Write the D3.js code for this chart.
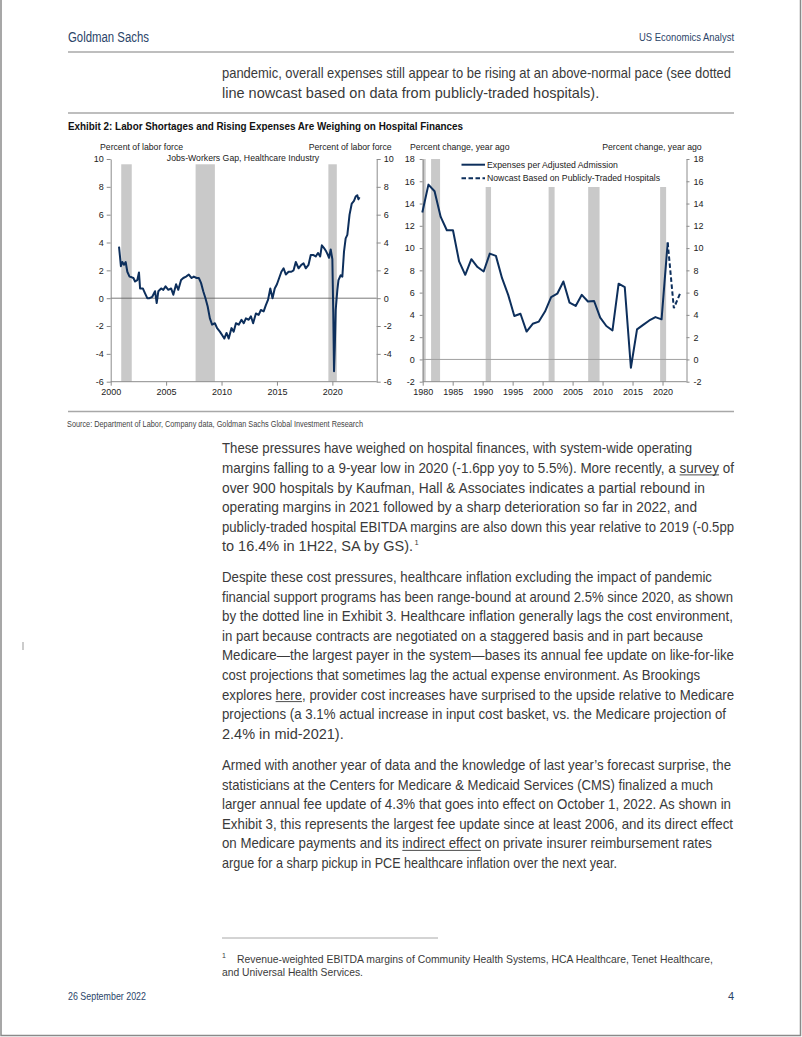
<!DOCTYPE html>
<html><head><meta charset="utf-8">
<script src="https://cdn.jsdelivr.net/npm/d3@7"></script>
<style>
html,body{margin:0;padding:0;background:#fff;}
svg{display:block;}
text{font-family:"Liberation Sans",Arial,sans-serif;}
</style></head>
<body>
<svg id="page" width="802" height="1037"></svg>
<script>
// ---------------- DATA ----------------
// Left panel: Jobs-Workers Gap, Healthcare Industry (percent of labor force)
const gapDates = [2000.75,2000.85,2000.92,2001.05,2001.2,2001.35,2001.5,2001.7,2001.9,2002.05,2002.2,2002.4,2002.55,2002.65,2002.9,2003.1,2003.3,2003.5,2003.75,2004.0,2004.15,2004.3,2004.55,2004.75,2004.95,2005.2,2005.45,2005.65,2005.9,2006.1,2006.35,2006.55,2006.8,2007.05,2007.3,2007.5,2007.75,2007.95,2008.15,2008.35,2008.55,2008.75,2008.95,2009.15,2009.4,2009.6,2009.85,2010.05,2010.25,2010.45,2010.65,2010.9,2011.1,2011.3,2011.55,2011.8,2012.0,2012.2,2012.45,2012.65,2012.85,2013.1,2013.35,2013.55,2013.8,2014.0,2014.2,2014.4,2014.6,2014.8,2015.0,2015.2,2015.4,2015.6,2015.8,2016.05,2016.3,2016.5,2016.7,2016.95,2017.2,2017.4,2017.6,2017.85,2018.05,2018.3,2018.5,2018.7,2018.9,2019.05,2019.25,2019.45,2019.6,2019.7,2019.85,2020.0,2020.08,2020.15,2020.22,2020.3,2020.45,2020.55,2020.75,2020.9,2021.05,2021.2,2021.35,2021.45,2021.55,2021.75,2021.95,2022.1,2022.25,2022.35,2022.45];
const gapValues = [3.7,2.9,2.3,2.6,2.4,2.6,1.9,1.55,1.5,1.45,1.2,1.3,1.85,0.7,0.7,0.35,0.0,0.0,0.1,0.5,-0.35,0.5,0.7,0.6,0.85,0.6,0.7,0.25,1.0,0.6,1.3,1.45,1.55,1.7,1.45,1.55,1.45,1.45,1.1,0.5,0.0,-0.6,-1.45,-1.9,-1.8,-2.15,-2.4,-2.65,-2.9,-2.5,-2.9,-2.15,-2.4,-1.8,-1.9,-1.55,-1.8,-1.45,-1.55,-1.3,-1.8,-1.1,-1.2,-0.85,-0.95,-0.5,-0.1,0.7,0.0,0.7,1.0,1.45,1.9,2.15,1.7,1.9,1.9,2.0,2.6,2.15,2.4,2.5,2.15,2.4,3.1,3.1,3.0,3.25,3.0,3.8,3.6,3.35,3.1,2.9,3.5,2.8,-1.0,-5.25,-3.5,-0.85,0.6,1.3,1.65,1.55,3.35,4.3,4.55,5.27,6.0,6.8,7.0,7.3,7.4,7.1,7.25];
const leftRecessions = [[2000.95,2001.9],[2007.66,2009.4],[2019.64,2020.4]];
const leftYTicks = [-6,-4,-2,0,2,4,6,8,10];
const leftXTicks = [2000,2005,2010,2015,2020];

// Right panel: Expenses per Adjusted Admission (percent change, year ago)
const expYears = [1980,1981,1982,1983,1984,1985,1986,1987,1988,1989,1990,1991,1992,1993,1994,1995,1996,1997,1998,1999,2000,2001,2002,2003,2004,2005,2006,2007,2008,2009,2010,2011,2012,2013,2014,2015,2016,2017,2018,2019,2020];
const expValues = [13.2,15.7,15.1,12.8,11.6,11.6,8.8,7.6,9.0,8.3,7.9,9.5,9.3,7.3,5.8,3.9,4.1,2.5,3.2,3.4,4.3,5.6,5.9,7.0,5.1,4.8,5.8,5.2,5.25,3.75,3.0,2.6,6.8,6.5,-0.75,2.7,3.1,3.5,3.8,3.6,10.5];
const nowYears = [2020,2021,2022];
const nowValues = [10.5,4.6,5.9];
const rightRecessions = [[1979.95,1980.5],[1981.4,1982.9],[1990.5,1991.4],[2001.0,2002.0],[2007.6,2009.5],[2019.6,2020.6]];
const rightYTicks = [-2,0,2,4,6,8,10,12,14,16,18];
const rightXTicks = [1980,1985,1990,1995,2000,2005,2010,2015,2020];

const legendLabels = ["Expenses per Adjusted Admission","Nowcast Based on Publicly-Traded Hospitals"];

// ---------------- PAGE ----------------
const svg = d3.select("#page");
svg.append("rect").attr("width",802).attr("height",1037).attr("fill","#fff");
svg.append("path").attr("d","M1,0 V1035.5 H800.5 V0").attr("fill","none").attr("stroke","#8a8a8a").attr("stroke-width",1.5);

const navy = "#2b4569";
const bodyCol = "#3a3a3a";
const BODY_SIZE = 14.5;

function txt(x,y,s,opt){
  const t = svg.append("text").attr("x",x).attr("y",y).text(s)
    .attr("font-size",opt.size).attr("fill",opt.fill||"#222");
  if(opt.weight) t.attr("font-weight",opt.weight);
  if(opt.anchor) t.attr("text-anchor",opt.anchor);
  if(opt.len){ t.attr("textLength",opt.len).attr("lengthAdjust","spacingAndGlyphs"); }
  return t;
}
function rule(x1,x2,y,col,w){
  svg.append("line").attr("x1",x1).attr("x2",x2).attr("y1",y).attr("y2",y).attr("stroke",col||"#a8a8a8").attr("stroke-width",w||1.3);
}

// header
txt(68,42,"Goldman Sachs",{size:14,fill:navy,len:81});
txt(734,41,"US Economics Analyst",{size:11,fill:navy,anchor:"end",len:95});
rule(68,734,52);

// body line: text string, optional underlined substrings, optional superscript note, optional end x
function bodyLine(y,s,endX,under,sup){
  const t = svg.append("text").attr("x",222).attr("y",y).attr("font-size",BODY_SIZE).attr("fill",bodyCol).text(s);
  if(endX) t.attr("textLength",endX-222).attr("lengthAdjust","spacingAndGlyphs");
  const node = t.node();
  (under||[]).forEach(w=>{
    const i0 = s.indexOf(w), i1 = i0 + w.length - 1;
    const a = node.getExtentOfChar(i0), b = node.getExtentOfChar(i1);
    svg.append("line").attr("x1",a.x).attr("x2",b.x+b.width).attr("y1",y+2).attr("y2",y+2)
      .attr("stroke",bodyCol).attr("stroke-width",0.9);
  });
  if(sup){
    const last = node.getExtentOfChar(s.length-1);
    svg.append("text").attr("x",last.x+last.width+1.5).attr("y",y-6).attr("font-size",7.5).attr("fill",bodyCol).text(sup);
  }
}
bodyLine(78,"pandemic, overall expenses still appear to be rising at an above-normal pace (see dotted",731);
bodyLine(97.5,"line nowcast based on data from publicly-traded hospitals).",null);
rule(68,734,113);

txt(68,130,"Exhibit 2: Labor Shortages and Rising Expenses Are Weighing on Hospital Finances",{size:11.5,weight:"bold",fill:"#111",len:395});

// ---------------- LEFT CHART ----------------
const lineCol = "#0d2f5c";
const fmt = d => String(d);
const xL = d3.scaleLinear().domain([2000,2024]).range([110.7,376.7]);
const yL = d3.scaleLinear().domain([-6,10]).range([381.7,159]);
const gL = svg.append("g");
gL.selectAll("rect.rec").data(leftRecessions).join("rect")
  .attr("x",d=>xL(d[0])).attr("width",d=>xL(d[1])-xL(d[0]))
  .attr("y",yL(9.62)).attr("height",yL(-6)-yL(9.62)).attr("fill","#c9c9c9");
gL.append("line").attr("x1",xL(2000)).attr("x2",xL(2024)).attr("y1",yL(0)).attr("y2",yL(0)).attr("stroke","#555").attr("stroke-width",0.8);

function styleAxis(g){
  g.selectAll("path.domain").attr("stroke","#8c8c8c").attr("stroke-width",1);
  g.selectAll(".tick line").attr("stroke","#8c8c8c");
  g.selectAll(".tick text").attr("font-size",9).attr("fill","#222").attr("font-family","Liberation Sans, Arial, sans-serif");
}
gL.append("g").attr("transform",`translate(${xL(2000)},0)`)
  .call(d3.axisLeft(yL).tickValues(leftYTicks).tickFormat(fmt).tickSize(4).tickSizeOuter(0).tickPadding(3)).call(styleAxis);
gL.append("g").attr("transform",`translate(${xL(2024)},0)`)
  .call(d3.axisRight(yL).tickValues(leftYTicks).tickFormat(fmt).tickSize(4).tickSizeOuter(0).tickPadding(3)).call(styleAxis);
const axLB = gL.append("g").attr("transform",`translate(0,${yL(-6)})`)
  .call(d3.axisBottom(xL).tickValues(leftXTicks).tickFormat(fmt).tickSize(4).tickSizeOuter(0).tickPadding(3)).call(styleAxis);
axLB.select("path.domain").attr("d",`M${xL(2000)},0H${xL(2024)}`);

const lineL = d3.line().x((d,i)=>xL(gapDates[i])).y(d=>yL(d));
gL.append("path").datum(gapValues).attr("d",lineL).attr("fill","none").attr("stroke",lineCol).attr("stroke-width",2).attr("stroke-linejoin","round");

txt(100,149.5,"Percent of labor force",{size:8.7});
txt(391.7,149.5,"Percent of labor force",{size:8.7,anchor:"end"});
txt(243,160.8,"Jobs-Workers Gap, Healthcare Industry",{size:8.7,anchor:"middle"});

// ---------------- RIGHT CHART ----------------
const xR = d3.scaleLinear().domain([1980,2024]).range([422.7,686.5]);
const xRd = d3.scaleLinear().domain([1980,2020]).range([422.3,667.7]);
const yR = d3.scaleLinear().domain([-2,18]).range([381.7,159]);
const gR = svg.append("g");
gR.selectAll("rect.rec").data(rightRecessions).join("rect")
  .attr("x",d=>Math.max(xR(d[0]),421.5)).attr("width",d=>xR(d[1])-Math.max(xR(d[0]),421.5))
  .attr("y",yR(18)).attr("height",yR(-2)-yR(18)).attr("fill","#c9c9c9");
gR.append("line").attr("x1",xR(1980)).attr("x2",xR(2024)).attr("y1",yR(0)).attr("y2",yR(0)).attr("stroke","#a0a0a0").attr("stroke-width",1);

gR.append("g").attr("transform",`translate(${xR(1980)},0)`)
  .call(d3.axisLeft(yR).tickValues(rightYTicks).tickFormat(fmt).tickSize(3).tickSizeOuter(0).tickPadding(5)).call(styleAxis);
gR.append("g").attr("transform",`translate(${xR(2024)},0)`)
  .call(d3.axisRight(yR).tickValues(rightYTicks).tickFormat(fmt).tickSize(3).tickSizeOuter(0).tickPadding(4)).call(styleAxis);
const axRB = gR.append("g").attr("transform",`translate(0,${yR(-2)})`)
  .call(d3.axisBottom(xR).tickValues(rightXTicks).tickFormat(fmt).tickSize(4).tickSizeOuter(0).tickPadding(3)).call(styleAxis);
axRB.select("path.domain").attr("d",`M${xR(1980)},0H${xR(2024)}`);

// legend (white box covers shading)
gR.append("rect").attr("x",452).attr("y",158).attr("width",220).attr("height",29).attr("fill","#fff");
gR.append("line").attr("x1",461.5).attr("x2",485).attr("y1",164.7).attr("y2",164.7).attr("stroke",lineCol).attr("stroke-width",2);
gR.append("line").attr("x1",461.5).attr("x2",485).attr("y1",178.3).attr("y2",178.3).attr("stroke",lineCol).attr("stroke-width",2).attr("stroke-dasharray","4.5,2.5");
txt(487,167.8,legendLabels[0],{size:8.7});
txt(487,181.4,legendLabels[1],{size:8.7});

const lineR = d3.line().x((d,i)=>xRd(expYears[i])).y(d=>yR(d));
gR.append("path").datum(expValues).attr("d",lineR).attr("fill","none").attr("stroke",lineCol).attr("stroke-width",2).attr("stroke-linejoin","round");
const lineN = d3.line().x((d,i)=>xRd(nowYears[i])).y(d=>yR(d));
gR.append("path").datum(nowValues).attr("d",lineN).attr("fill","none").attr("stroke",lineCol).attr("stroke-width",2).attr("stroke-dasharray","4.5,2.5");

txt(410,149.5,"Percent change, year ago",{size:8.7});
txt(701.7,149.5,"Percent change, year ago",{size:8.7,anchor:"end"});

rule(68,734,411.5);
txt(67,427,"Source: Department of Labor, Company data, Goldman Sachs Global Investment Research",{size:8.5,fill:"#444",len:296});

// ---------------- BODY PARAGRAPHS ----------------
// [text, end x (null = natural width), underlined words, superscript]
const p1 = [
 ["These pressures have weighed on hospital finances, with system-wide operating",692],
 ["margins falling to a 9-year low in 2020 (-1.6pp yoy to 5.5%). More recently, a survey of",734,["survey"]],
 ["over 900 hospitals by Kaufman, Hall & Associates indicates a partial rebound in",705],
 ["operating margins in 2021 followed by a sharp deterioration so far in 2022, and",697],
 ["publicly-traded hospital EBITDA margins are also down this year relative to 2019 (-0.5pp",734],
 ["to 16.4% in 1H22, SA by GS).",null,null,"1"]
];
const p2 = [
 ["Despite these cost pressures, healthcare inflation excluding the impact of pandemic",712],
 ["financial support programs has been range-bound at around 2.5% since 2020, as shown",733],
 ["by the dotted line in Exhibit 3. Healthcare inflation generally lags the cost environment,",733],
 ["in part because contracts are negotiated on a staggered basis and in part because",703],
 ["Medicare\u2014the largest payer in the system\u2014bases its annual fee update on like-for-like",734],
 ["cost projections that sometimes lag the actual expense environment. As Brookings",700],
 ["explores here, provider cost increases have surprised to the upside relative to Medicare",734,["here"]],
 ["projections (a 3.1% actual increase in input cost basket, vs. the Medicare projection of",726],
 ["2.4% in mid-2021).",null]
];
const p3 = [
 ["Armed with another year of data and the knowledge of last year\u2019s forecast surprise, the",731],
 ["statisticians at the Centers for Medicare & Medicaid Services (CMS) finalized a much",713],
 ["larger annual fee update of 4.3% that goes into effect on October 1, 2022. As shown in",731],
 ["Exhibit 3, this represents the largest fee update since at least 2006, and its direct effect",733],
 ["on Medicare payments and its indirect effect on private insurer reimbursement rates",712,["indirect effect"]],
 ["argue for a sharp pickup in PCE healthcare inflation over the next year.",617]
];
const LH = 19.6;
p1.forEach((l,i)=>bodyLine(453.3+i*LH,l[0],l[1],l[2],l[3]));
p2.forEach((l,i)=>bodyLine(582+i*LH,l[0],l[1],l[2],l[3]));
p3.forEach((l,i)=>bodyLine(770+i*LH,l[0],l[1],l[2],l[3]));

// small margin mark
svg.append("line").attr("x1",23).attr("x2",23).attr("y1",642).attr("y2",650).attr("stroke","#999").attr("stroke-width",1);

// footnote
rule(222,438,938,"#a8a8a8",1);
svg.append("text").attr("x",222).attr("y",958).attr("font-size",7).attr("fill",bodyCol).text("1");
txt(237,963,"Revenue-weighted EBITDA margins of Community Health Systems, HCA Healthcare, Tenet Healthcare,",{size:10.5,fill:bodyCol,len:476});
txt(222,976,"and Universal Health Services.",{size:10.5,fill:bodyCol,len:141});

// footer
txt(68,1000,"26 September 2022",{size:11,fill:navy,len:78});
txt(734,1000,"4",{size:11,fill:navy,anchor:"end"});
</script>
</body></html>
